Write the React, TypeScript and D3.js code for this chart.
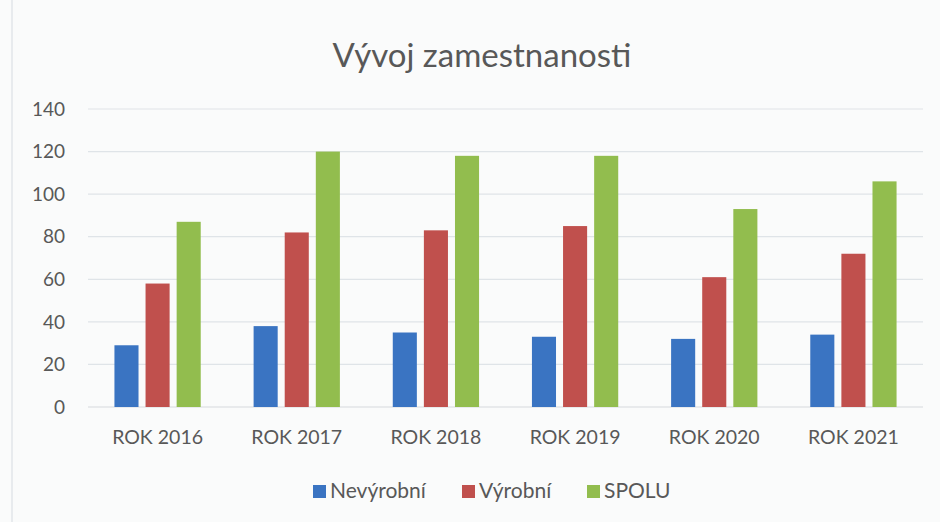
import React, { useEffect, useRef } from "react";
import * as d3 from "d3";

const categories = ["ROK 2016", "ROK 2017", "ROK 2018", "ROK 2019", "ROK 2020", "ROK 2021"];
const seriesNames = ["Nevýrobní", "Výrobní", "SPOLU"];
const nevyrobni = [29, 38, 35, 33, 32, 34];
const vyrobni = [58, 82, 83, 85, 61, 72];
const spolu = [87, 120, 118, 118, 93, 106];
const yTicks = [0, 20, 40, 60, 80, 100, 120, 140];
const colors = ["#3A74C2", "#C0504D", "#92BD4E"];

const W = 940;
const H = 522;

export default function App() {
  const ref = useRef<SVGSVGElement>(null);

  useEffect(() => {
    const svg = d3.select(ref.current);
    svg.selectAll("*").remove();
    const font = "Lato, 'Open Sans', sans-serif";
    const textColor = "#585858";

    svg.append("rect").attr("width", W).attr("height", H).attr("fill", "#fafbfb");
    svg.append("line").attr("x1", 12).attr("x2", 12).attr("y1", 0).attr("y2", H)
      .attr("stroke", "#e2e6ea").attr("stroke-width", 1.5);

    const left = 88, right = 923, top = 109, bottom = 407;
    const y = d3.scaleLinear().domain([0, 140]).range([bottom, top]);
    const x0 = d3.scaleBand<string>().domain(categories).range([left, right])
      .paddingInner(0.38).paddingOuter(0.19);
    const x1 = d3.scaleBand<string>().domain(seriesNames).range([0, x0.bandwidth()])
      .paddingInner(0.226).paddingOuter(0);

    // gridlines
    svg.append("g").selectAll("line").data(yTicks).join("line")
      .attr("x1", left).attr("x2", right)
      .attr("y1", (d) => y(d)).attr("y2", (d) => y(d))
      .attr("stroke", (d) => (d === 0 ? "#d5d9dd" : "#dfe4e8")).attr("stroke-width", 1.2);

    // y labels
    svg.append("g").selectAll("text").data(yTicks).join("text")
      .attr("x", 65).attr("y", (d) => y(d)).attr("dy", "0.35em")
      .attr("text-anchor", "end").attr("font-family", font).attr("font-size", 19)
      .attr("fill", textColor).text((d) => d);

    const series = [nevyrobni, vyrobni, spolu];
    const g = svg.append("g");
    categories.forEach((c, i) => {
      series.forEach((s, j) => {
        g.append("rect")
          .attr("x", (x0(c) as number) + (x1(seriesNames[j]) as number))
          .attr("width", x1.bandwidth())
          .attr("y", y(s[i]))
          .attr("height", y(0) - y(s[i]))
          .attr("fill", colors[j]);
      });
    });

    // x labels
    svg.append("g").selectAll("text").data(categories).join("text")
      .attr("x", (d) => (x0(d) as number) + x0.bandwidth() / 2)
      .attr("y", 437.5).attr("dy", "0.35em")
      .attr("text-anchor", "middle").attr("font-family", font).attr("font-size", 19.5)
      .attr("fill", textColor).text((d) => d);

    // title
    svg.append("text").attr("x", 482).attr("y", 67)
      .attr("text-anchor", "middle").attr("font-family", font).attr("font-size", 33)
      .attr("fill", textColor).text("Vývoj zamestnanosti");

    // legend
    const legendX = [313, 462, 587];
    seriesNames.forEach((n, j) => {
      svg.append("rect").attr("x", legendX[j]).attr("y", 485).attr("width", 13).attr("height", 13)
        .attr("fill", colors[j]);
      svg.append("text").attr("x", legendX[j] + 17).attr("y", 491).attr("dy", "0.35em")
        .attr("font-family", font).attr("font-size", 21).attr("fill", textColor).text(n);
    });
  }, []);

  return (
    <svg ref={ref} width={W} height={H}
      style={{ position: "absolute", left: 0, top: 0, display: "block" }} />
  );
}
